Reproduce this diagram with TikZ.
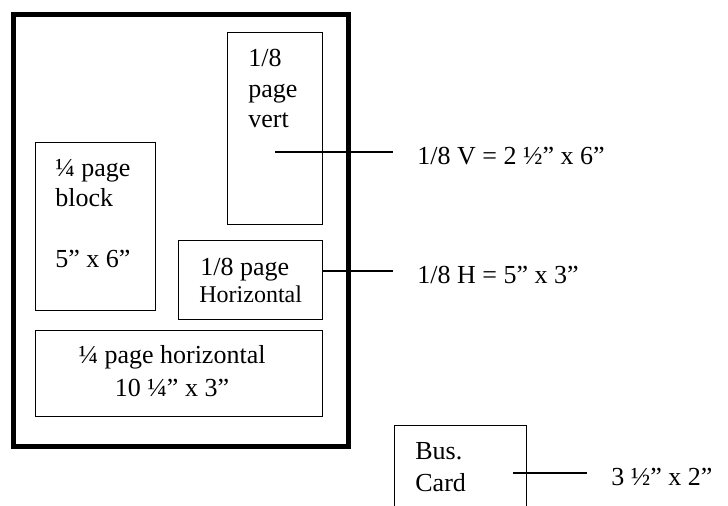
\documentclass[tikz,border=0pt]{standalone}
\usepackage{fontspec}
\setmainfont{Liberation Serif}
\usetikzlibrary{positioning}
\tikzstyle{page} = [
	draw,
	line width=2.5pt,
	inner sep=0pt,
	anchor=north west
]
\tikzstyle{block} = [
	draw,
	line width=0.65pt,
	inner sep=0pt,
	anchor=north west
]
\tikzstyle{txt} = [inner sep=0pt, anchor=base west, align=left]
\tikzstyle{dim} = [inner xsep=12pt, inner ysep=0pt, anchor=base west]
\tikzstyle{wire} = [line width=0.65pt]

\begin{document}
\begin{tikzpicture}[x=0.5pt, y=-0.5pt, font=\fontsize{13}{15.25}\selectfont]
	\useasboundingbox (0,0) rectangle (728,506);
	\clip (0,0) rectangle (728,506);

	% the page and its ad sizes
	\node[page, minimum width=167.5pt, minimum height=216pt] (sheet) at (11,12) {};
	\node[block, minimum width=47.5pt, minimum height=96pt] (eighthV) at (227,32) {};
	\node[block, minimum width=60pt, minimum height=84pt] (quarterB) at (35,142) {};
	\node[block, minimum width=72pt, minimum height=39.5pt] (eighthH) at (178,240) {};
	\node[block, minimum width=143.5pt, minimum height=43pt] (quarterH) at (35,330) {};
	\node[block, minimum width=66pt, minimum height=50pt] (bus) at (394,425) {};

	% base of a multi-line text is its last line
	\node[txt] (eighthVtxt) at (248,128) {1/8\\page\\vert};
	\node[txt] (quarterBtxt) at (55,268) {¼ page\\block\\[15.25pt]5” x 6”};
	\node[txt] (eighthHtxt) at (200,276) {1/8 page};
	\node[txt, font=\fontsize{12}{14}\selectfont] (eighthHsub) at (199,303) {Horizontal};
	\node[inner sep=0pt, anchor=base, align=center, font=\fontsize{13}{16.5}\selectfont] (quarterHtxt) at (172,397) {¼ page horizontal\\10 ¼” x 3”};
	\node[txt, font=\fontsize{13}{16}\selectfont] (bustxt) at (415,492) {Bus.\\Card};

	% sizes
	\coordinate (vtip) at (275,152);
	\coordinate (htip) at (322,271);
	\coordinate (btip) at (513,473);
	\node[dim] (vdim) at (393,164.5) {1/8 V = 2 ½” x 6”};
	\node[dim] (hdim) at (393,283.5) {1/8 H = 5” x 3”};
	\node[dim] (bdim) at (587,485.5) {3 ½” x 2”};

	\draw[wire] (vtip) -- (vtip -| vdim.west);
	\draw[wire] (htip) -- (htip -| hdim.west);
	\draw[wire] (btip) -- (btip -| bdim.west);
\end{tikzpicture}
\end{document}
